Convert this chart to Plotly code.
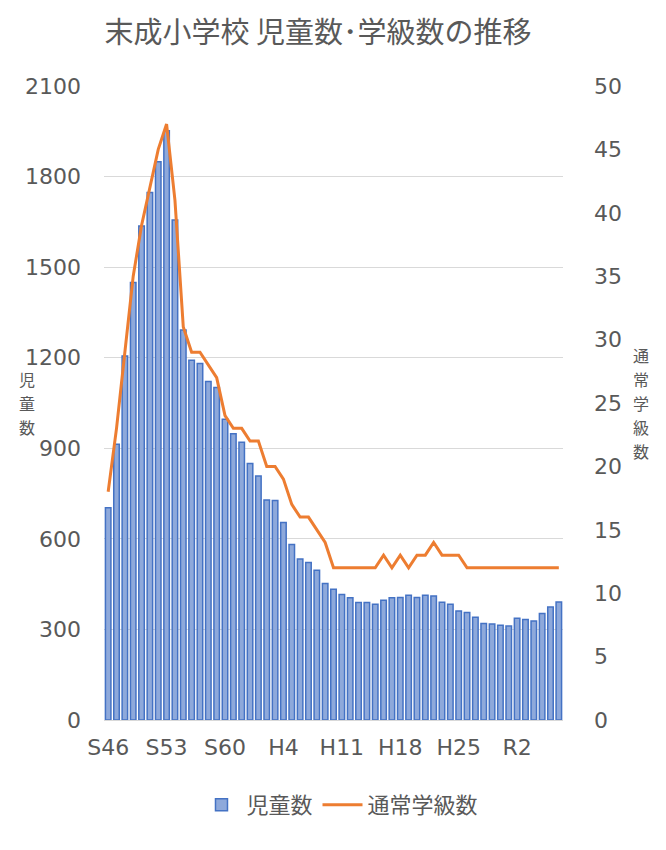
import plotly.graph_objects as go

years = ["S46", "S47", "S48", "S49", "S50", "S51", "S52", "S53", "S54", "S55",
         "S56", "S57", "S58", "S59", "S60", "S61", "S62", "S63",
         "H1", "H2", "H3", "H4", "H5", "H6", "H7", "H8", "H9", "H10",
         "H11", "H12", "H13", "H14", "H15", "H16", "H17", "H18", "H19", "H20",
         "H21", "H22", "H23", "H24", "H25", "H26", "H27", "H28", "H29", "H30",
         "R1", "R2", "R3", "R4", "R5", "R6", "R7"]

students = [703, 913, 1206, 1449, 1636, 1747, 1849, 1952, 1656, 1292,
            1192, 1181, 1121, 1101, 996, 948, 920, 850,
            808, 729, 727, 654, 581, 533, 522, 496, 452, 433,
            416, 405, 389, 389, 383, 397, 405, 406, 413, 406,
            413, 411, 390, 383, 361, 356, 340, 320, 318, 314,
            311, 337, 333, 328, 353, 374, 391]

classes = [18, 23, 29, 35, 39, 42, 45, 47, 41, 31,
           29, 29, 28, 27, 24, 23, 23, 22,
           22, 20, 20, 19, 17, 16, 16, 15, 14, 12,
           12, 12, 12, 12, 12, 13, 12, 13, 12, 13,
           13, 14, 13, 13, 13, 12, 12, 12, 12, 12,
           12, 12, 12, 12, 12, 12, 12]

tick_labels = ["S46", "S53", "S60", "H4", "H11", "H18", "H25", "R2"]

left_title = "児童数"
right_title = "通常学級数"

# page body has an 8px margin: lay out in window pixels, then shift
OFF = 8
W, H = 666 - OFF, 850 - OFF
L, R, T, B = 103.5 - OFF, 102.5, 86 - OFF, 130
pw, ph = W - L - R, H - T - B


def px(x):
    return (x - OFF - L) / pw


def py(y):
    return (H - B - (y - OFF)) / ph


GRAY = "#595959"
FONT = "DejaVu Sans, Noto Sans CJK JP"
CJK = "Noto Sans CJK JP"

fig = go.Figure()
fig.add_trace(go.Bar(
    x=years, y=students, name="児童数",
    marker=dict(color="#8EA9DB", line=dict(color="#4472C4", width=1.5)),
    yaxis="y",
))
fig.add_trace(go.Scatter(
    x=years, y=classes, name="通常学級数", mode="lines",
    line=dict(color="#ED7D31", width=3),
    yaxis="y2",
))

fig.update_layout(
    width=W, height=H,
    margin=dict(l=L, r=R, t=T, b=B),
    paper_bgcolor="white", plot_bgcolor="white",
    bargap=0.34,
    showlegend=True,
    title=dict(text="末成小学校 児童数･学級数の推移", font=dict(family=CJK, size=29, color=GRAY),
               x=px(318), xref="paper", xanchor="center",
               y=1 - (33 - OFF) / H, yref="container", yanchor="middle"),
    legend=dict(orientation="h", x=px(340), xanchor="center", y=py(805), yanchor="middle",
                font=dict(family=CJK, size=22, color=GRAY), itemwidth=40),
    xaxis=dict(type="category", tickmode="array", tickvals=tick_labels, ticktext=tick_labels,
               tickfont=dict(family=FONT, size=22, color=GRAY), ticks="",
               showgrid=False, showline=True, linecolor="#D9D9D9", linewidth=1,
               ticklabelstandoff=8, range=[-0.5, len(years) - 0.5]),
    yaxis=dict(range=[0, 2100], tickmode="linear", tick0=0, dtick=300,
               tickfont=dict(family=FONT, size=22, color=GRAY),
               showgrid=True, gridcolor="#D9D9D9", gridwidth=1, zeroline=False,
               ticks="", ticklabelstandoff=22, showline=False),
    yaxis2=dict(range=[0, 50], tickmode="linear", tick0=0, dtick=5, overlaying="y", side="right",
                tickfont=dict(family=FONT, size=22, color=GRAY),
                showgrid=False, zeroline=False, ticks="", ticklabelstandoff=30, showline=False),
)

for i, ch in enumerate(left_title):
    fig.add_annotation(text=ch, x=px(26), y=py(379 + 24 * i), xref="paper", yref="paper",
                       showarrow=False, font=dict(family=CJK, size=16, color=GRAY),
                       xanchor="center", yanchor="middle", borderpad=0)
for i, ch in enumerate(right_title):
    fig.add_annotation(text=ch, x=px(642), y=py(355 + 24 * i), xref="paper", yref="paper",
                       showarrow=False, font=dict(family=CJK, size=16, color=GRAY),
                       xanchor="center", yanchor="middle", borderpad=0)

fig.add_shape(type="rect", xref="paper", yref="paper",
              x0=px(5), x1=px(720), y0=py(900), y1=py(5),
              line=dict(color="#D9D9D9", width=1.5), fillcolor="rgba(0,0,0,0)", layer="below")

fig.write_html("out.html")
